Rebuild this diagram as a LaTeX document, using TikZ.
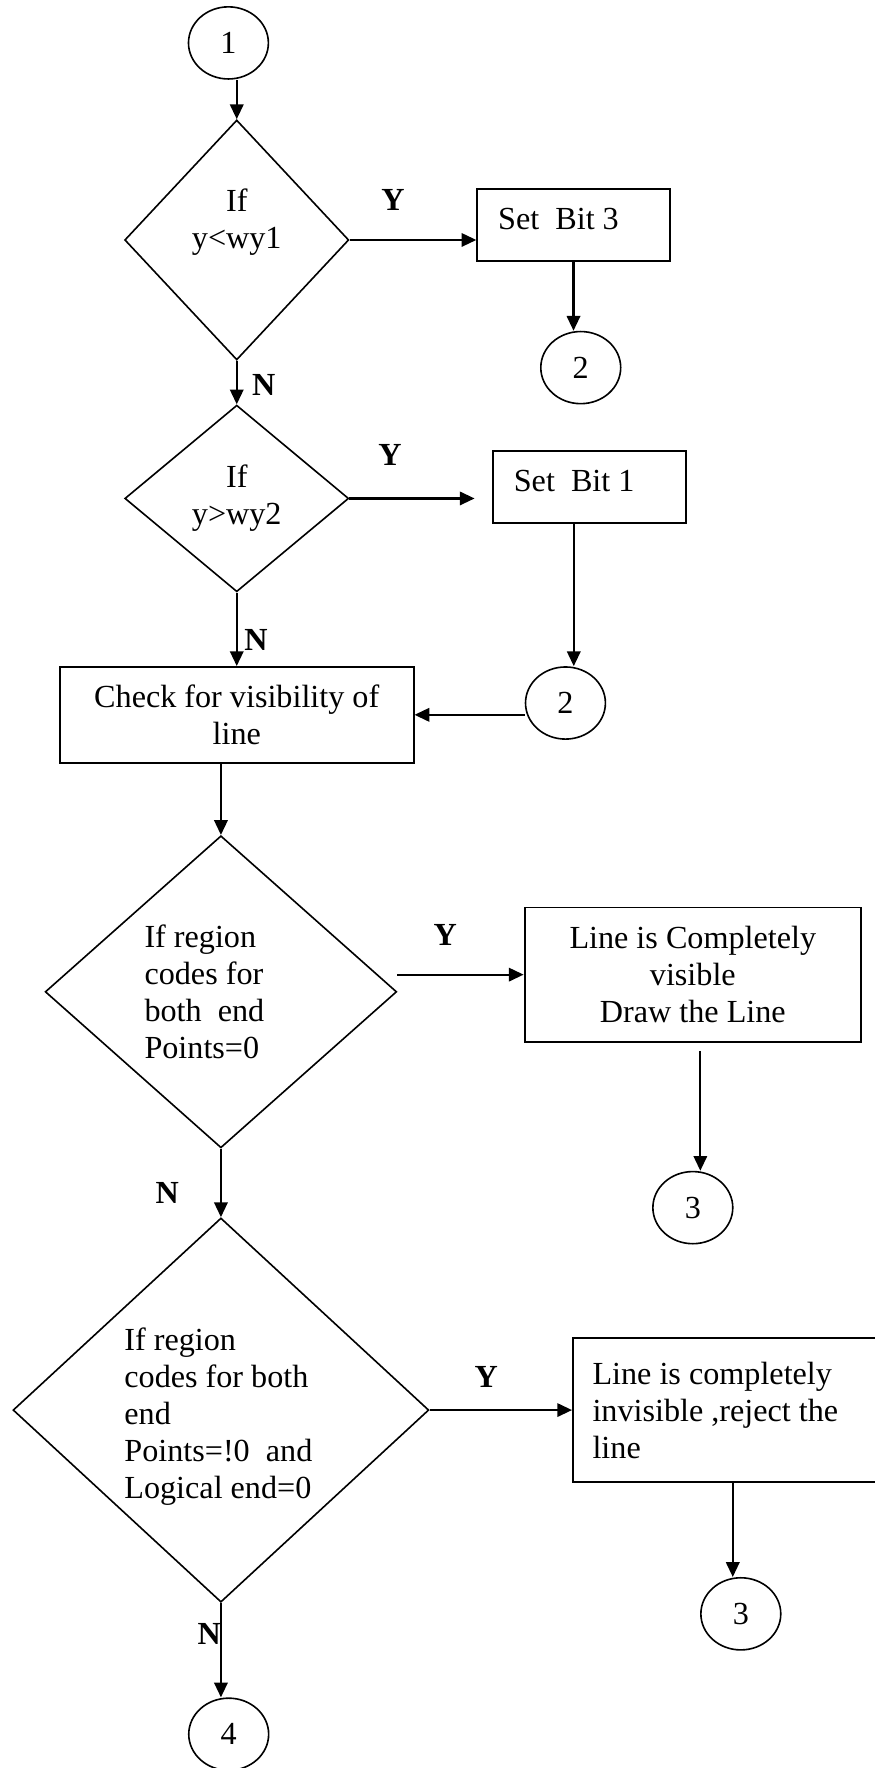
\documentclass[tikz,border=0pt]{standalone}
\usepackage{fontspec}
\setmainfont{Liberation Serif}
\usetikzlibrary{positioning,shapes.geometric,arrows.meta}

\begin{document}
\begin{tikzpicture}[every node/.style={font=\fontsize{12}{13.8}\selectfont},
    conn node/.style={draw, ellipse, line width=0.6pt, minimum width=29.8pt, minimum height=26.9pt, inner sep=0pt},
    test node/.style={draw, diamond, line width=0.6pt, aspect=1, inner sep=0pt},
    proc node/.style={draw, rectangle, line width=0.7pt, inner sep=0pt},
    yn/.style={font=\fontsize{12}{13.8}\selectfont\bfseries},
    flow/.style={line width=0.8pt, -{Triangle[length=5.5pt,width=5pt]}}]
  \useasboundingbox (-85.2pt,16pt) rectangle (241.1pt,-643.4pt);

  \node[conn node] (c1) {1};
  \node[test node, minimum width=83.6pt, minimum height=89.5pt, align=flush center, text depth=15.6pt] (if1) [node distance=73.5pt, below of=c1, xshift=3.1pt] {If\\y<wy1};
  \node[proc node, text width=56.2pt, inner xsep=7.8pt, minimum height=26.9pt, align=flush left, text depth=4.8pt] (bit3) [node distance=125.6pt, right of=if1, yshift=5.6pt] {Set\ \ Bit 3};
  \node[conn node] (to2a) [node distance=53.2pt, below of=bit3, xshift=2.7pt] {2};

  \node[test node, minimum width=83.5pt, minimum height=69.6pt, align=flush center] (if2) [node distance=96.4pt, below of=if1] {If\\y>wy2};
  \node[proc node, text width=56.3pt, inner xsep=7.8pt, minimum height=27pt, align=flush left, text depth=4.5pt] (bit1) [node distance=131.5pt, right of=if2, yshift=4.2pt] {Set\ \ Bit 1};
  \node[conn node] (to2b) [node distance=80.5pt, below of=bit1, xshift=-8.9pt] {2};

  \node[proc node, minimum width=131.9pt, minimum height=35.7pt, align=flush center] (chk) [node distance=80.7pt, below of=if2] {Check for visibility of\\line};

  \node[test node, minimum width=131.1pt, minimum height=116.4pt, text width=57pt, align=flush left] (if3) [node distance=103.3pt, below of=chk, xshift=-5.9pt] {If region\\codes for\\both\ \ end\\Points=0};
  \node[proc node, minimum width=125.5pt, minimum height=50.1pt, align=flush center] (vis) [node distance=176pt, right of=if3, yshift=6.4pt] {Line is Completely\\visible\\Draw the Line};
  \node[conn node] (to3a) [node distance=86.9pt, below of=vis] {3};

  \node[test node, minimum width=155.1pt, minimum height=143pt, text width=72pt, align=flush left, text height=13.5pt] (if4) [node distance=156pt, below of=if3] {If region\\codes for both\\end\\Points=!0\ \ and\\Logical end=0};
  \node[proc node, text width=101pt, inner xsep=7.3pt, minimum height=53.7pt, align=flush left] (inv) [node distance=189.1pt, right of=if4] {Line is completely\\invisible ,reject the\\line};
  \node[conn node] (to3b) [node distance=76pt, below of=inv, xshift=4.8pt] {3};
  \node[conn node] (to4) [node distance=120.9pt, below of=if4, xshift=2.9pt] {4};

  \draw[flow] (c1.south -| if1.north) -- (if1.north);
  \draw[flow] (if1.east) -- node[yn, pos=.343, yshift=14.9pt] (y1) {Y} (if1.east -| bit3.west);
  \draw[flow] (bit3.south) -- (bit3.south |- to2a.north);
  \draw[flow] (if1.south) -- node[yn, pos=.556, xshift=10.1pt] (n1) {N} (if2.north);
  \draw[flow, shorten >=6.5pt] (if2.east) -- node[yn, pos=.285, yshift=16.2pt] (y2) {Y} (if2.east -| bit1.west);
  \draw[flow] ([xshift=-5.8pt]bit1.south) -- ([xshift=-5.8pt]bit1.south |- to2b.north);
  \draw[flow] (to2b.west |- chk.east) -- (chk.east);
  \draw[flow] (if2.south) -- node[yn, pos=.64, xshift=7.2pt] (n2) {N} (chk.north);
  \draw[flow] (chk.south -| if3.north) -- (if3.north);
  \draw[flow] (if3.east |- vis.west) -- node[yn, pos=.378, yshift=14.7pt] (y3) {Y} (vis.west);
  \draw[flow, shorten <=3pt] ([xshift=2.8pt]vis.south) -- ([xshift=2.8pt]to3a.north);
  \draw[flow] (if3.south) -- node[yn, pos=.64, xshift=-20pt] (n3) {N} (if4.north);
  \draw[flow] (if4.east) -- node[yn, pos=.397, yshift=12.4pt] (y4) {Y} (if4.east -| inv.west);
  \draw[flow] ([xshift=-3pt]to3b.north |- inv.south) -- ([xshift=-3pt]to3b.north);
  \draw[flow] (if4.south) -- node[yn, pos=.327, xshift=-4.4pt] (n4) {N} (if4.south |- to4.north);
\end{tikzpicture}
\end{document}
